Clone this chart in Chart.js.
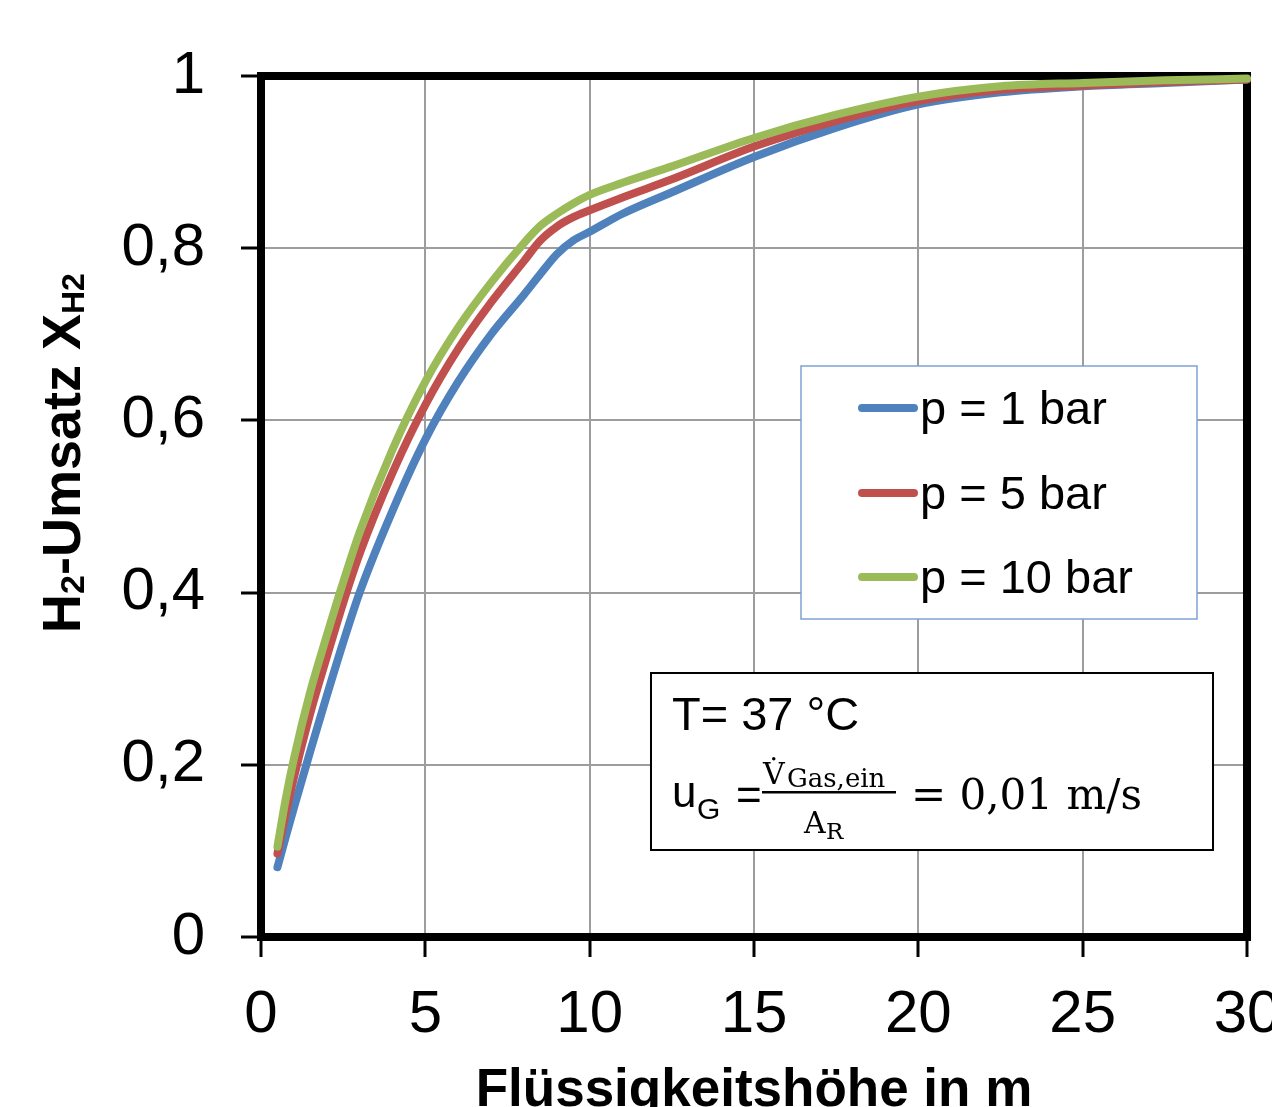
<!DOCTYPE html>
<html>
<head>
<meta charset="utf-8">
<script src="https://cdn.jsdelivr.net/npm/chart.js@4.4.1/dist/chart.umd.min.js"></script>
<style>
  html, body { margin: 0; padding: 0; background: #fff; overflow: hidden; }
  #wrap { position: absolute; left: 0; top: 0; width: 1330px; height: 1140px; }
</style>
</head>
<body>
<div id="wrap"><canvas id="chart" width="1330" height="1140"></canvas></div>
<script>
// Flüssigkeitshöhe in m
const heights = [0.5, 0.75, 1, 1.5, 2, 2.5, 3, 4, 5, 6, 7, 8, 8.5, 9, 9.5, 10, 11, 12.5, 15, 17.5, 20, 22.5, 25, 27.5, 30];

// H2-Umsatz je Druck
const umsatz1bar  = [0.081, 0.116, 0.150, 0.216, 0.280, 0.342, 0.400, 0.495, 0.578, 0.645, 0.700, 0.746, 0.770, 0.793, 0.809, 0.819, 0.840, 0.865, 0.906, 0.940, 0.967, 0.981, 0.988, 0.992, 0.996];
const umsatz5bar  = [0.097, 0.143, 0.185, 0.260, 0.325, 0.388, 0.445, 0.539, 0.618, 0.683, 0.737, 0.785, 0.809, 0.825, 0.836, 0.844, 0.859, 0.880, 0.918, 0.948, 0.971, 0.984, 0.989, 0.993, 0.996];
const umsatz10bar = [0.105, 0.160, 0.207, 0.285, 0.350, 0.412, 0.470, 0.566, 0.645, 0.708, 0.760, 0.806, 0.826, 0.840, 0.852, 0.862, 0.876, 0.895, 0.928, 0.955, 0.976, 0.988, 0.992, 0.995, 0.997];

const seriesLabels = ['p = 1 bar', 'p = 5 bar', 'p = 10 bar'];
const seriesColors = ['#4F81BD', '#C0504D', '#9BBB59'];

const xTicks = [0, 5, 10, 15, 20, 25, 30];
const yTicks = [0, 0.2, 0.4, 0.6, 0.8, 1];

const SANS = '"Liberation Sans", Arial, sans-serif';
const SERIF = '"DejaVu Serif", serif';

function toPoints(ys) {
    return heights.map((h, i) => ({ x: h, y: ys[i] }));
}

// Rahmen, Legende, Textfeld und Achsentitel
const decor = {
    id: 'decor',
    beforeDatasetsDraw(chart) {
        const { ctx, chartArea: a } = chart;
        ctx.save();
        ctx.strokeStyle = '#000';
        ctx.lineWidth = 8;
        ctx.strokeRect(a.left, a.top, a.right - a.left, a.bottom - a.top);
        ctx.restore();
    },
    afterDraw(chart) {
        const { ctx, chartArea: a } = chart;
        ctx.save();

        // Legende
        ctx.fillStyle = '#fff';
        ctx.fillRect(801, 366, 396, 253);
        ctx.strokeStyle = '#7FA3D3';
        ctx.lineWidth = 1.5;
        ctx.strokeRect(801, 366, 396, 253);
        const rows = [408, 493, 577];
        chart.data.datasets.forEach((ds, i) => {
            ctx.strokeStyle = ds.borderColor;
            ctx.lineWidth = 8;
            ctx.lineCap = 'round';
            ctx.beginPath();
            ctx.moveTo(862, rows[i]);
            ctx.lineTo(914, rows[i]);
            ctx.stroke();
            ctx.fillStyle = '#000';
            ctx.font = '47px ' + SANS;
            ctx.textBaseline = 'alphabetic';
            ctx.textAlign = 'left';
            ctx.fillText(ds.label, 920, rows[i] + 16);
        });

        // Textfeld
        ctx.fillStyle = '#fff';
        ctx.fillRect(651, 673, 562, 177);
        ctx.strokeStyle = '#000';
        ctx.lineWidth = 2;
        ctx.strokeRect(651, 673, 562, 177);
        ctx.fillStyle = '#000';
        ctx.font = '47px ' + SANS;
        ctx.fillText('T= 37 °C', 672, 730);
        ctx.font = '44px ' + SANS;
        ctx.fillText('u', 672, 807);
        ctx.font = '30px ' + SANS;
        ctx.fillText('G', 697, 819);
        ctx.font = '44px ' + SANS;
        ctx.fillText('=', 736, 810);
        ctx.fillRect(762, 791, 134, 2.5);
        ctx.font = '30px ' + SERIF;
        ctx.fillText('V\u0307', 763, 784);
        ctx.font = '26px ' + SERIF;
        ctx.fillText('Gas,ein', 787, 787);
        ctx.font = '30px ' + SERIF;
        ctx.fillText('A', 804, 833);
        ctx.font = '23px ' + SERIF;
        ctx.fillText('R', 826, 839);
        ctx.font = '42px ' + SERIF;
        ctx.fillText('= 0,01 m/s', 911, 809);

        // x-Achsentitel
        ctx.font = 'bold 53px ' + SANS;
        ctx.textAlign = 'center';
        ctx.fillText('Flüssigkeitshöhe in m', (a.left + a.right) / 2, 1106);

        // y-Achsentitel (gedreht, mit Indizes)
        ctx.translate(80, 633);
        ctx.rotate(-Math.PI / 2);
        ctx.textAlign = 'left';
        const parts = [
            ['H', 54, 0], ['2', 34, 4], ['-Umsatz X', 54, 0], ['H2', 32, 4]
        ];
        let x = 0;
        parts.forEach(([txt, size, dy]) => {
            ctx.font = 'bold ' + size + 'px ' + SANS;
            ctx.fillText(txt, x, dy);
            x += ctx.measureText(txt).width;
        });
        ctx.restore();
    }
};

const ctx = document.getElementById('chart').getContext('2d');

new Chart(ctx, {
    type: 'line',
    data: {
        datasets: [umsatz1bar, umsatz5bar, umsatz10bar].map((ys, i) => ({
            label: seriesLabels[i],
            data: toPoints(ys),
            borderColor: seriesColors[i],
            borderWidth: 8,
            borderCapStyle: 'round',
            borderJoinStyle: 'round',
            pointRadius: 0,
            cubicInterpolationMode: 'monotone',
            fill: false,
            clip: false,
            order: 2 - i
        }))
    },
    options: {
        responsive: false,
        animation: false,
        events: [],
        layout: { padding: { top: 76, right: 83, left: 0, bottom: 0 } },
        plugins: {
            legend: { display: false },
            tooltip: { enabled: false }
        },
        scales: {
            x: {
                type: 'linear',
                min: 0,
                max: 30,
                afterBuildTicks: s => { s.ticks = xTicks.map(v => ({ value: v })); },
                afterFit: s => { s.height = 1140 - 937; },
                ticks: {
                    color: '#000',
                    font: { family: SANS, size: 60 },
                    padding: 22,
                    maxRotation: 0
                },
                grid: {
                    color: '#9d9d9d',
                    lineWidth: 2,
                    tickColor: '#000',
                    tickWidth: 3,
                    tickLength: 20
                },
                border: { display: false }
            },
            y: {
                min: 0,
                max: 1,
                afterBuildTicks: s => { s.ticks = yTicks.map(v => ({ value: v })); },
                afterFit: s => { s.width = 261; },
                ticks: {
                    color: '#000',
                    font: { family: SANS, size: 60 },
                    padding: 36,
                    callback: v => (v === 0 || v === 1) ? String(v) : v.toFixed(1).replace('.', ',')
                },
                grid: {
                    color: '#9d9d9d',
                    lineWidth: 2,
                    tickColor: '#000',
                    tickWidth: 3,
                    tickLength: 20
                },
                border: { display: false }
            }
        }
    },
    plugins: [decor]
});
</script>
</body>
</html>
